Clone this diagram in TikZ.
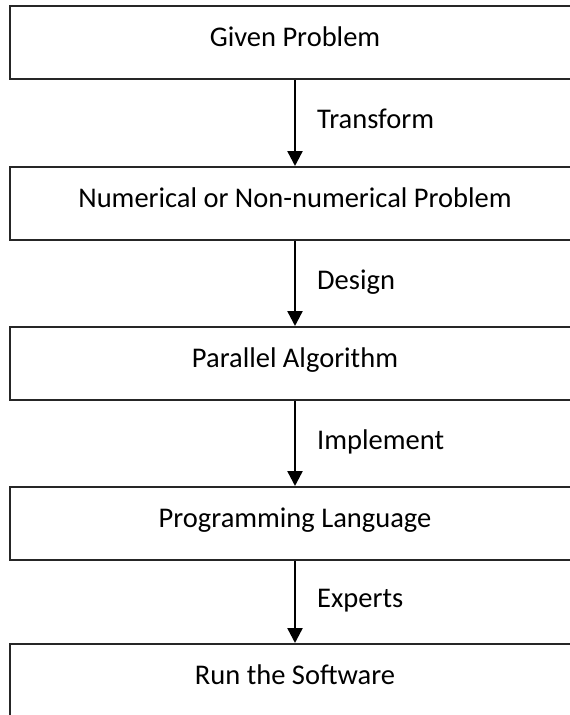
\documentclass[tikz,border=0pt]{standalone}
\usepackage{fontspec}
\setmainfont{Carlito}
\usetikzlibrary{arrows.meta,positioning}

\begin{document}
\begin{tikzpicture}[x=1pt,y=-1pt,>={Triangle[length=15pt,width=15pt]},font=\fontsize{28.5}{34}\selectfont]
\tikzstyle{b}=[draw=black!85,line width=2pt,minimum width=570pt,minimum height=73pt,inner sep=0pt,text height=15pt,text depth=8pt,fill=white]
\tikzstyle{a}=[->,line width=2.4pt,black]
\tikzstyle{l}=[right,inner sep=0pt,xshift=21pt,text height=15pt,text depth=4pt]
\useasboundingbox (0,0) rectangle (570,715);
\clip (0,0) rectangle (570,715);
\node[b] (given) at (295,42.5) {Given Problem};
\node[b] (numer) at (295,203.5) {Numerical or Non-numerical Problem};
\node[b] (paral) at (295,363.5) {Parallel Algorithm};
\node[b] (progr) at (295,523.5) {Programming Language};
\node[b] (run) at (295,680.5) {Run the Software};
\draw[a] (given.south) -- (numer.north) node[l,midway] {Transform};
\draw[a] (numer.south) -- (paral.north) node[l,midway] {Design};
\draw[a] (paral.south) -- (progr.north) node[l,midway] {Implement};
\draw[a] (progr.south) -- (run.north) node[l,midway] {Experts};
\end{tikzpicture}
\end{document}
